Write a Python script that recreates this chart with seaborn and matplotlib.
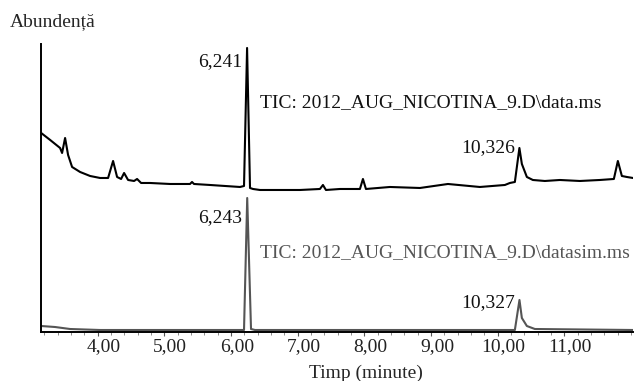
import numpy as np
import pandas as pd
import matplotlib

matplotlib.use("Agg")
import matplotlib.pyplot as plt
import matplotlib.transforms as mtransforms
import seaborn as sns

# TIC trace (data.ms), arbitrary abundance units
tic_time = [3.152, 3.287, 3.436, 3.466, 3.511, 3.556, 3.616, 3.736, 3.886, 4.036,
            4.156, 4.231, 4.291, 4.351, 4.396, 4.456, 4.546, 4.591, 4.651, 4.786,
            5.086, 5.385, 5.415, 5.445, 5.685, 6.135, 6.195, 6.241, 6.285, 6.330,
            6.435, 7.035, 7.334, 7.379, 7.424, 7.634, 7.934, 7.979, 8.024, 8.384,
            8.834, 9.254, 9.733, 10.108, 10.183, 10.258, 10.326, 10.363, 10.438,
            10.528, 10.708, 10.933, 11.233, 11.533, 11.743, 11.803, 11.863,
            11.938, 12.03]
tic_signal = [199, 192, 184, 179, 194, 177, 165, 160, 156, 154,
              154, 171, 155, 153, 159, 152, 151, 153, 149, 149,
              148, 148, 150, 148, 147, 145, 146, 284, 144, 143,
              142, 142, 143, 147, 142, 143, 143, 153, 143, 145,
              144, 148, 145, 147, 149, 150, 184, 168, 155,
              152, 151, 152, 151, 152, 153, 171, 156,
              155, 154]

# SIM trace (datasim.ms)
sim_time = [3.152, 3.36, 3.586, 4.036, 6.195, 6.243, 6.30, 6.36,
            10.258, 10.327, 10.363, 10.438, 10.558, 12.03]
sim_signal = [6, 5, 3, 2, 2, 134, 3, 2,
              2, 32, 14, 6, 3, 2]

peak_times = [6.241, 10.326, 6.243, 10.327]
peak_labels = ["6,241", "10,326", "6,243", "10,327"]
peak_label_y = [270, 184, 114, 29]

tick_values = [4, 5, 6, 7, 8, 9, 10, 11]
tick_labels = ["4,00", "5,00", "6,00", "7,00", "8,00", "9,00", "10,00", "11,00"]

trace_names = ["TIC: 2012_AUG_NICOTINA_9.D\\data.ms",
               "TIC: 2012_AUG_NICOTINA_9.D\\datasim.ms"]

df = pd.concat([
    pd.DataFrame({"time": tic_time, "signal": tic_signal, "trace": "data"}),
    pd.DataFrame({"time": sim_time, "signal": sim_signal, "trace": "sim"}),
])

sns.set_style("ticks")
plt.rcParams["font.family"] = ["Liberation Serif", "DejaVu Serif"]

fig = plt.figure(figsize=(6.39, 3.81), dpi=100)
ax = fig.add_axes([0.0642, 0.1286, 0.9264, 0.756])

sns.lineplot(data=df, x="time", y="signal", hue="trace",
             palette={"data": "black", "sim": "#555555"},
             linewidth=1.5, legend=False, ax=ax, sort=False)

ax.set_xlim(3.15, 12.03)
ax.set_ylim(0, 288)
ax.set_yticks([])
ax.set_xlabel("")
ax.set_ylabel("")
sns.despine(ax=ax, top=True, right=True)
for sp in ["left", "bottom"]:
    ax.spines[sp].set_linewidth(1.4)
    ax.spines[sp].set_color("black")

ax.set_xticks(tick_values)
ax.set_xticklabels(tick_labels, fontsize=14, color="#222222")
ax.set_xticks(np.arange(3.2, 12.01, 0.2), minor=True)
ax.tick_params(axis="x", which="major", length=3, width=0.8, pad=1.5, color="#555555")
ax.tick_params(axis="x", which="minor", length=2, width=0.6, color="#777777")
offset = mtransforms.ScaledTranslation(6 / 100, 0, fig.dpi_scale_trans)
for lbl in ax.get_xticklabels():
    lbl.set_transform(lbl.get_transform() + offset)

for t, lab, yv in zip(peak_times, peak_labels, peak_label_y):
    ax.text(t - 0.07, yv, lab, ha="right", va="center", fontsize=14, color="#111111")

ax.text(6.435, 229, trace_names[0], ha="left", va="center", fontsize=14, color="#111111")
ax.text(6.435, 79, trace_names[1], ha="left", va="center", fontsize=14, color="#555555")

fig.text(10 / 639, 1 - 22 / 381, "Abundență", ha="left", va="center", fontsize=14)
fig.text(366 / 639, 1 - 373 / 381, "Timp (minute)", ha="center", va="center", fontsize=14)

fig.savefig("out.png", dpi=100)
